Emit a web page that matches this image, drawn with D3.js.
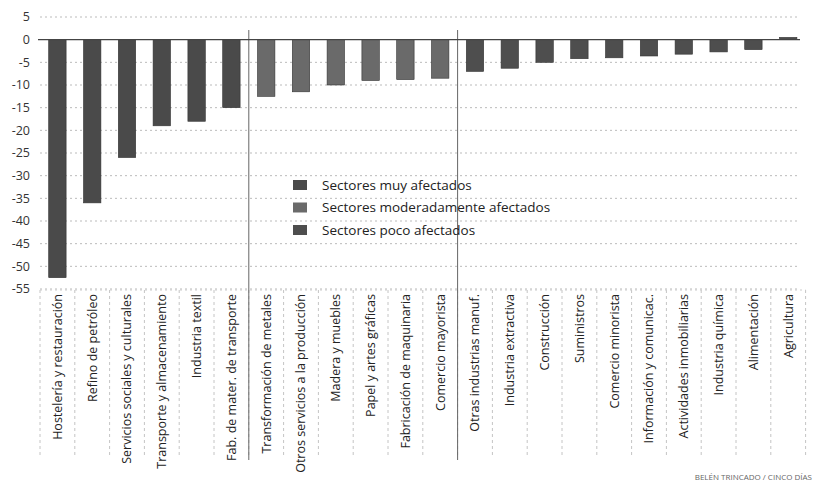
<!DOCTYPE html>
<html>
<head>
<meta charset="utf-8">
<script src="https://cdn.jsdelivr.net/npm/d3@7"></script>
<style>
  body { margin: 0; background: #fff; }
  text { font-family: "Open Sans", "Noto Sans", sans-serif; }
</style>
</head>
<body>
<div id="chart"></div>
<script>
// Sector names, in the order they appear
const sectors = [
  "Hostelería y restauración", "Refino de petróleo", "Servicios sociales y culturales",
  "Transporte y almacenamiento", "Industria textil", "Fab. de mater. de transporte",
  "Transformación de metales", "Otros servicios a la producción", "Madera y muebles",
  "Papel y artes gráficas", "Fabricación de maquinaria", "Comercio mayorista",
  "Otras industrias manuf.", "Industria extractiva", "Construcción", "Suministros",
  "Comercio minorista", "Información y comunicac.", "Actividades inmobiliarias",
  "Industria química", "Alimentación", "Agricultura"
];
// Change (%)
const values = [
  -52.5, -36, -26, -19, -18, -15,
  -12.5, -11.5, -10, -9, -8.8, -8.5,
  -7, -6.3, -5, -4.2, -4, -3.6, -3.2, -2.7, -2.2, 0.5
];
// group of each sector: 0 muy, 1 moderado, 2 poco
const groups = [0,0,0,0,0,0, 1,1,1,1,1,1, 2,2,2,2,2,2,2,2,2,2];
const groupNames = ["Sectores muy afectados", "Sectores moderadamente afectados", "Sectores poco afectados"];
const yTicks = [5, 0, -5, -10, -15, -20, -25, -30, -35, -40, -45, -50, -55];

const W = 816, H = 486;
const svg = d3.select("#chart").append("svg")
    .attr("width", W).attr("height", H);

const x = d3.scaleBand()
    .domain(sectors)
    .range([40, 805.6])
    .paddingInner(0.5)
    .paddingOuter(0.25);

const y = d3.scaleLinear()
    .domain([-55, 5])
    .range([289, 17]);

const color = d3.scaleOrdinal()
    .domain([0, 1, 2])
    .range(["#4a4a4a", "#6a6a6a", "#4e4e4e"]);

// dotted gridlines
svg.append("g")
  .selectAll("line")
  .data(yTicks.filter(d => d !== 0))
  .join("line")
    .attr("x1", 40).attr("x2", 800)
    .attr("y1", d => y(d)).attr("y2", d => y(d))
    .attr("stroke", "#bbb")
    .attr("stroke-width", 1)
    .attr("stroke-dasharray", "2,3");

// y tick labels
svg.append("g")
  .selectAll("text")
  .data(yTicks)
  .join("text")
    .attr("x", 30)
    .attr("y", d => y(d))
    .attr("dy", "0.35em")
    .attr("text-anchor", "end")
    .attr("font-size", 12.5)
    .attr("fill", "#333")
    .text(d => d);

// label boxes: dashed separators between categories
const step = x.step();
const bounds = sectors.map(s => x(s) + x.bandwidth() / 2 - step / 2);
bounds.push(x(sectors[sectors.length - 1]) + x.bandwidth() / 2 + step / 2);
svg.append("g")
  .selectAll("line")
  .data(bounds)
  .join("line")
    .attr("x1", d => d).attr("x2", d => d)
    .attr("y1", 290).attr("y2", 458)
    .attr("stroke", "#c4c4c4")
    .attr("stroke-dasharray", "3,3");
svg.append("line")
    .attr("x1", bounds[0]).attr("x2", bounds[bounds.length - 1])
    .attr("y1", 290).attr("y2", 290)
    .attr("stroke", "#ccc")
    .attr("stroke-dasharray", "2,3");

// group separators
[6, 12].forEach(i => {
  svg.append("line")
      .attr("x1", bounds[i]).attr("x2", bounds[i])
      .attr("y1", 30).attr("y2", 460)
      .attr("stroke", "#666")
      .attr("stroke-width", 1);
});

// bars
svg.append("g")
  .selectAll("rect")
  .data(values)
  .join("rect")
    .attr("x", (d, i) => x(sectors[i]))
    .attr("y", d => y(Math.max(0, d)))
    .attr("width", x.bandwidth())
    .attr("height", d => Math.abs(y(d) - y(0)))
    .attr("fill", (d, i) => color(groups[i]))
    .attr("stroke", "#333")
    .attr("stroke-width", 0.6);

// zero line
svg.append("line")
    .attr("x1", 38).attr("x2", 800)
    .attr("y1", y(0)).attr("y2", y(0))
    .attr("stroke", "#444")
    .attr("stroke-width", 1.2);

// category labels, rotated
svg.append("g")
  .selectAll("text")
  .data(sectors)
  .join("text")
    .attr("transform", d => `translate(${x(d) + x.bandwidth() / 2}, 294) rotate(-90)`)
    .attr("dy", "0.35em")
    .attr("text-anchor", "end")
    .attr("font-size", 12.5)
    .attr("fill", "#222")
    .text(d => d);

// legend
const legend = svg.append("g")
    .attr("transform", "translate(293, 185)");
groupNames.forEach((name, i) => {
  legend.append("rect")
      .attr("x", 0).attr("y", i * 22.5 - 5)
      .attr("width", 14).attr("height", 10)
      .attr("fill", color(i));
  legend.append("text")
      .attr("x", 29).attr("y", i * 22.5)
      .attr("dy", "0.35em")
      .attr("font-size", 13.5)
      .attr("fill", "#222")
      .text(name);
});

// source
svg.append("text")
    .attr("x", 812).attr("y", 480)
    .attr("text-anchor", "end")
    .attr("font-size", 8)
    .attr("fill", "#666")
    .text("BELÉN TRINCADO / CINCO DÍAS");
</script>
</body>
</html>
